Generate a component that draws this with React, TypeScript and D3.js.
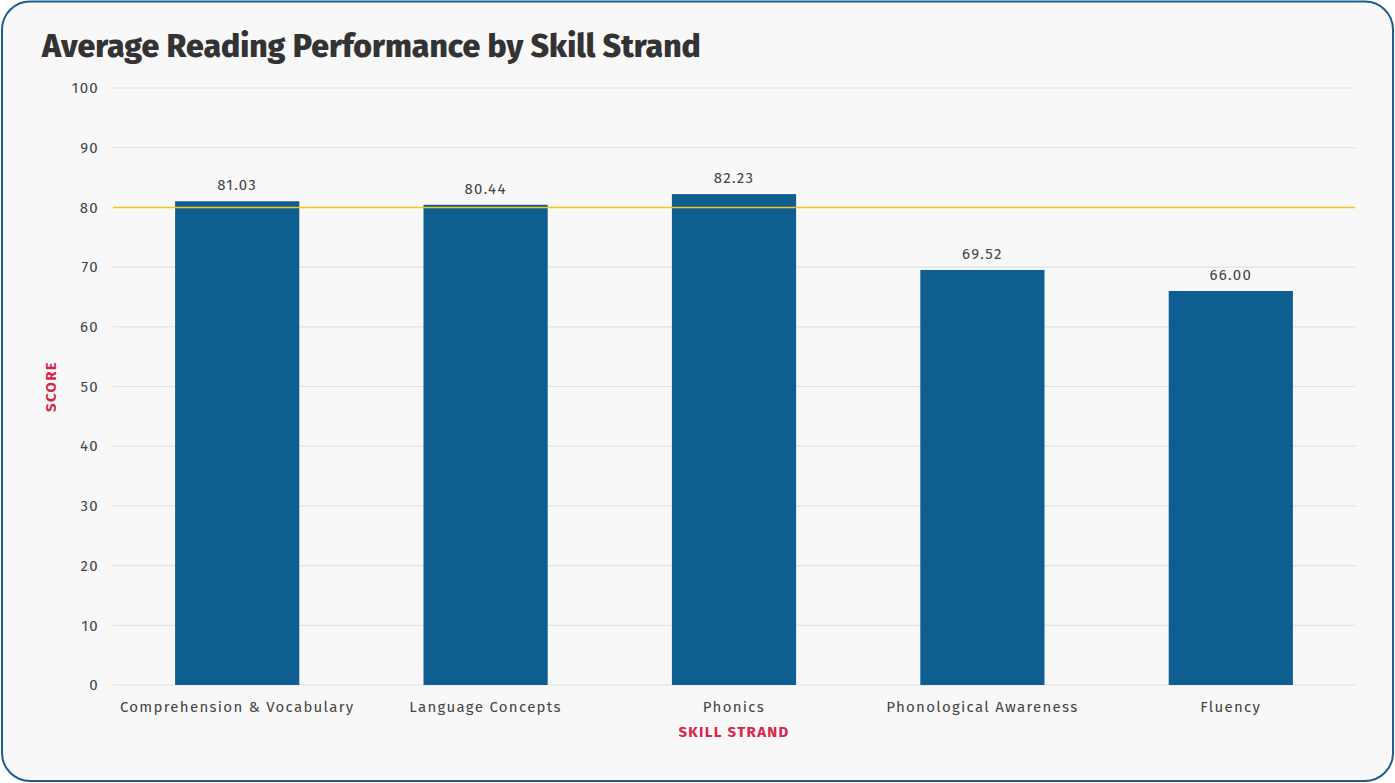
import React from 'react';
import * as d3 from 'd3';

const categories = ['Comprehension & Vocabulary', 'Language Concepts', 'Phonics', 'Phonological Awareness', 'Fluency'];
const scores = [81.03, 80.44, 82.23, 69.52, 66.0];
const yTicks = [0, 10, 20, 30, 40, 50, 60, 70, 80, 90, 100];
const benchmark = 80;

const W = 1395;
const H = 783;
const margin = { top: 88, right: 40, bottom: 98, left: 113 };
const font = '"Fira Sans", "Open Sans", "Noto Sans", sans-serif';
const ls = 1.3; // the labels in the original are spaced out a bit

const App: React.FC = () => {
  const innerW = W - margin.left - margin.right;
  const innerH = H - margin.top - margin.bottom;

  const x = d3.scaleBand<string>().domain(categories).range([0, innerW]).paddingInner(0.5).paddingOuter(0.25);
  const y = d3.scaleLinear().domain([0, 100]).range([innerH, 0]);

  return (
    <div style={{ position: 'absolute', left: 0, top: 0, width: W, height: H }}>
      <svg width={W} height={H} style={{ display: 'block', fontFamily: font }}>
        <rect x={2} y={1.5} width={W - 4} height={H - 3.5} rx={28} ry={28} fill="#f8f8f8" stroke="#1c5f8e" strokeWidth={2} />
        <text x={42} y={57} fontSize={32} fontWeight={800} fill="#333333">
          Average Reading Performance by Skill Strand
        </text>
        <g transform={`translate(${margin.left},${margin.top})`}>
          {yTicks.map((t) => (
            <g key={t} transform={`translate(0,${y(t)})`}>
              <line x1={0} x2={innerW} stroke="#e2e2e2" strokeWidth={1.2} />
              <text x={-14} dy="0.35em" textAnchor="end" fontSize={15} letterSpacing={ls} fill="#444">
                {t}
              </text>
            </g>
          ))}
          {categories.map((c, i) => (
            <g key={c}>
              <rect x={x(c)} y={y(scores[i])} width={x.bandwidth()} height={innerH - y(scores[i])} fill="#0f5e91" />
              <text x={(x(c) ?? 0) + x.bandwidth() / 2} y={y(scores[i]) - 11} textAnchor="middle" fontSize={15} letterSpacing={ls} fill="#444">
                {scores[i].toFixed(2)}
              </text>
              <text x={(x(c) ?? 0) + x.bandwidth() / 2} y={innerH + 27} textAnchor="middle" fontSize={15} letterSpacing={ls} fill="#444">
                {c}
              </text>
            </g>
          ))}
          <line x1={0} x2={innerW} y1={y(benchmark)} y2={y(benchmark)} stroke="#f5c518" strokeWidth={1.5} />
          <text x={innerW / 2} y={innerH + 52} textAnchor="middle" fontSize={15} letterSpacing={ls} fontWeight={700} fill="#d7264b">
            SKILL STRAND
          </text>
          <text transform={`translate(${-57},${innerH / 2}) rotate(-90)`} textAnchor="middle" fontSize={15} letterSpacing={ls} fontWeight={700} fill="#d7264b">
            SCORE
          </text>
        </g>
      </svg>
    </div>
  );
};

export default App;
